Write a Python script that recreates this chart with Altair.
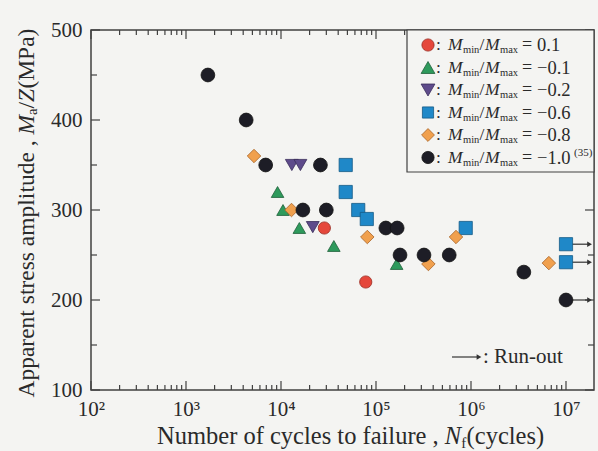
import altair as alt
import pandas as pd

# ---------------- data ----------------
series_keys = ["0.1", "−0.1", "−0.2", "−0.6", "−0.8", "−1.0"]

red_N = [28600, 78000]
red_S = [280, 220]
green_N = [9200, 10500, 15600, 36000, 165000]
green_S = [320, 300, 280, 260, 240]
purple_N = [13000, 16000, 21600]
purple_S = [350, 350, 281]
blue_N = [48000, 48000, 65000, 80000, 880000, 1e7, 1e7]
blue_S = [350, 320, 300, 290, 280, 262, 242]
orange_N = [5200, 12900, 81000, 356000, 695000, 6.6e6]
orange_S = [360, 300, 270, 240, 270, 241]
black_N = [1700, 4300, 6900, 26000, 17000, 30000, 127000, 167000, 179000,
           320000, 590000, 3.6e6, 1e7]
black_S = [450, 400, 350, 350, 300, 300, 280, 280, 250, 250, 250, 231, 200]

runout_N = [1e7, 1e7, 1e7]
runout_S = [262, 242, 200]

x_tick_values = [1e2, 1e3, 1e4, 1e5, 1e6, 1e7]
x_tick_labels = ["10²", "10³", "10⁴", "10⁵", "10⁶", "10⁷"]
y_tick_values = [100, 200, 300, 400, 500]
y_minor_values = [150, 250, 350, 450]

# ---------------- styling ----------------
W, H = 503, 360
XMAX = 10 ** (2 + W / 95)
ARROW_END = 1.77e7
SERIF = "Liberation Serif"
TXT = "#2a2a2a"
AX = "#404040"
BG = "#f4f4f2"

shapes = ["circle", "triangle-up", "triangle-down", "square", "diamond", "circle"]
fills = ["#e5473b", "#2e9a5c", "#5e4b8b", "#1f88c8", "#f0a04e", "#1d1d26"]
strokes = ["#9a2a20", "#1f5f3a", "#3a2d5a", "#145a86", "#a8652a", "#111111"]
sizes = [150, 190, 190, 125, 165, 150]

rows = []
for key, Ns, Ss in zip(series_keys,
                       [red_N, green_N, purple_N, blue_N, orange_N, black_N],
                       [red_S, green_S, purple_S, blue_S, orange_S, black_S]):
    for n, s in zip(Ns, Ss):
        rows.append({"N": n, "S": s, "series": key})
df = pd.DataFrame(rows)

label_expr = " : ".join(
    f"datum.value < {v * 3:.0f} ? '{lab}'" for v, lab in zip(x_tick_values[:-1], x_tick_labels[:-1])
) + f" : '{x_tick_labels[-1]}'"

xscale = alt.Scale(type="log", domain=[100, XMAX], nice=False)
yscale = alt.Scale(domain=[100, 500], nice=False, zero=False)
xaxis = alt.Axis(values=x_tick_values, labelExpr=label_expr, ticks=False, domain=False,
                 grid=False, title=None, labelFont=SERIF, labelFontSize=21, labelColor=TXT,
                 labelPadding=8, labelFlush=False, labelOverlap=False)
yaxis = alt.Axis(values=y_tick_values, ticks=False, domain=False, grid=False, title=None,
                 labelFont=SERIF, labelFontSize=21, labelColor=TXT, labelPadding=9,
                 labelFlush=False, labelOverlap=False)


def X(field="N"):
    return alt.X(f"{field}:Q", scale=xscale, axis=xaxis)


def Y(field="S"):
    return alt.Y(f"{field}:Q", scale=yscale, axis=yaxis)


layers = []

# ---- ticks (inward) ----
xmaj = pd.DataFrame({"N": x_tick_values})
xmin = pd.DataFrame({"N": [m * v for v in x_tick_values[:-1] for m in range(2, 10)]})
ymaj = pd.DataFrame({"S": y_tick_values})
ymin = pd.DataFrame({"S": y_minor_values})
for d, ln in [(xmaj, 9), (xmin, 5)]:
    layers.append(alt.Chart(d).mark_rule(color=AX, strokeWidth=1.2).encode(
        x=X(), y=alt.value(H), y2=alt.value(H - ln)))
    layers.append(alt.Chart(d).mark_rule(color=AX, strokeWidth=1.2).encode(
        x=X(), y=alt.value(0), y2=alt.value(ln)))
for d, ln in [(ymaj, 9), (ymin, 6)]:
    layers.append(alt.Chart(d).mark_rule(color=AX, strokeWidth=1.2).encode(
        y=Y(), x=alt.value(0), x2=alt.value(ln)))
    layers.append(alt.Chart(d).mark_rule(color=AX, strokeWidth=1.2).encode(
        y=Y(), x=alt.value(W), x2=alt.value(W - ln)))

# ---- run-out arrows ----
ro = pd.DataFrame({"N": runout_N, "S": runout_S, "N2": [ARROW_END] * len(runout_N)})
layers.append(alt.Chart(ro).mark_rule(color="#333", strokeWidth=1.2).encode(
    x=X(), x2="N2:Q", y=Y()))
layers.append(alt.Chart(ro).mark_point(shape="triangle-right", filled=True, color="#333",
                                       size=30, opacity=1).encode(x=X("N2"), y=Y()))

# ---- data points ----
layers.append(alt.Chart(df).mark_point(filled=True, opacity=1, strokeWidth=0.8).encode(
    x=X(), y=Y(),
    shape=alt.Shape("series:N", scale=alt.Scale(domain=series_keys, range=shapes), legend=None),
    fill=alt.Fill("series:N", scale=alt.Scale(domain=series_keys, range=fills), legend=None),
    stroke=alt.Stroke("series:N", scale=alt.Scale(domain=series_keys, range=strokes), legend=None),
    size=alt.Size("series:N", scale=alt.Scale(domain=series_keys, range=sizes), legend=None),
))

# ---- text helper ----
dummy = pd.DataFrame({"d": [0]})


def txt(text, x, y, size, style="normal", align="left", angle=None, baseline="middle"):
    kw = dict(text=text, font=SERIF, fontSize=size, fontStyle=style, align=align,
              baseline=baseline, color=TXT)
    if angle is not None:
        kw["angle"] = angle
    return alt.Chart(dummy).mark_text(**kw).encode(x=alt.value(x), y=alt.value(y))


# ---- legend box ----
layers.append(alt.Chart(dummy).mark_rect(fill=BG, stroke=AX, strokeWidth=1.2).encode(
    x=alt.value(316), x2=alt.value(W), y=alt.value(0), y2=alt.value(142)))
for i, key in enumerate(series_keys):
    ry = 15 + 22.5 * i
    layers.append(alt.Chart(dummy).mark_point(
        shape=shapes[i], filled=True, fill=fills[i], stroke=strokes[i], strokeWidth=0.8,
        size=sizes[i], opacity=1).encode(x=alt.value(337), y=alt.value(ry)))
    layers.append(txt(":", 345, ry, 17.5))
    layers.append(txt("M", 357, ry, 17.5, "italic"))
    layers.append(txt("min", 372, ry + 5, 10.5))
    layers.append(txt("/", 388.5, ry, 17.5))
    layers.append(txt("M", 394, ry, 17.5, "italic"))
    layers.append(txt("max", 409, ry + 5, 10.5))
    layers.append(txt("=", 431, ry, 18))
    layers.append(txt(key, 446, ry, 18.5))
layers.append(txt("(35)", 483, 15 + 22.5 * 5 - 5, 11))

# ---- run-out legend ----
layers.append(alt.Chart(dummy).mark_rule(color="#333", strokeWidth=1.2).encode(
    x=alt.value(361), x2=alt.value(388), y=alt.value(327)))
layers.append(alt.Chart(dummy).mark_point(shape="triangle-right", filled=True, color="#333",
                                          size=30, opacity=1).encode(
    x=alt.value(388), y=alt.value(327)))
layers.append(txt(": Run-out", 392, 327, 21))

# ---- axis titles (composed for italics / subscripts) ----
XT_Y = 407
layers.append(txt("Number of cycles to failure ,", 347.7, XT_Y, 24.5, align="right"))
layers.append(txt("N", 353.8, XT_Y, 24.5, "italic"))
layers.append(txt("f", 370.3, XT_Y + 6, 15))
layers.append(txt("(cycles)", 375.6, XT_Y, 24.5))

YT_X = -64
YF = 23.5
layers.append(txt("Apparent stress amplitude ,", YT_X, 110.4, YF, align="right", angle=270))
layers.append(txt("M", YT_X, 104.5, YF, "italic", angle=270))
layers.append(txt("a", YT_X + 6, 84.9, 14.5, angle=270))
layers.append(txt("/", YT_X, 78.5, YF, angle=270))
layers.append(txt("Z", YT_X, 72, YF, "italic", angle=270))
layers.append(txt("(MPa)", YT_X, 58.6, YF, angle=270))

chart = alt.layer(*layers).properties(
    width=W, height=H, background=BG,
    autosize=alt.AutoSizeParams(type="none"),
    padding={"left": 91, "top": 30, "right": 4, "bottom": 61},
).configure_view(stroke=AX, strokeWidth=1.5)

chart.save("out.html", embed_options={"renderer": "svg", "actions": False})
